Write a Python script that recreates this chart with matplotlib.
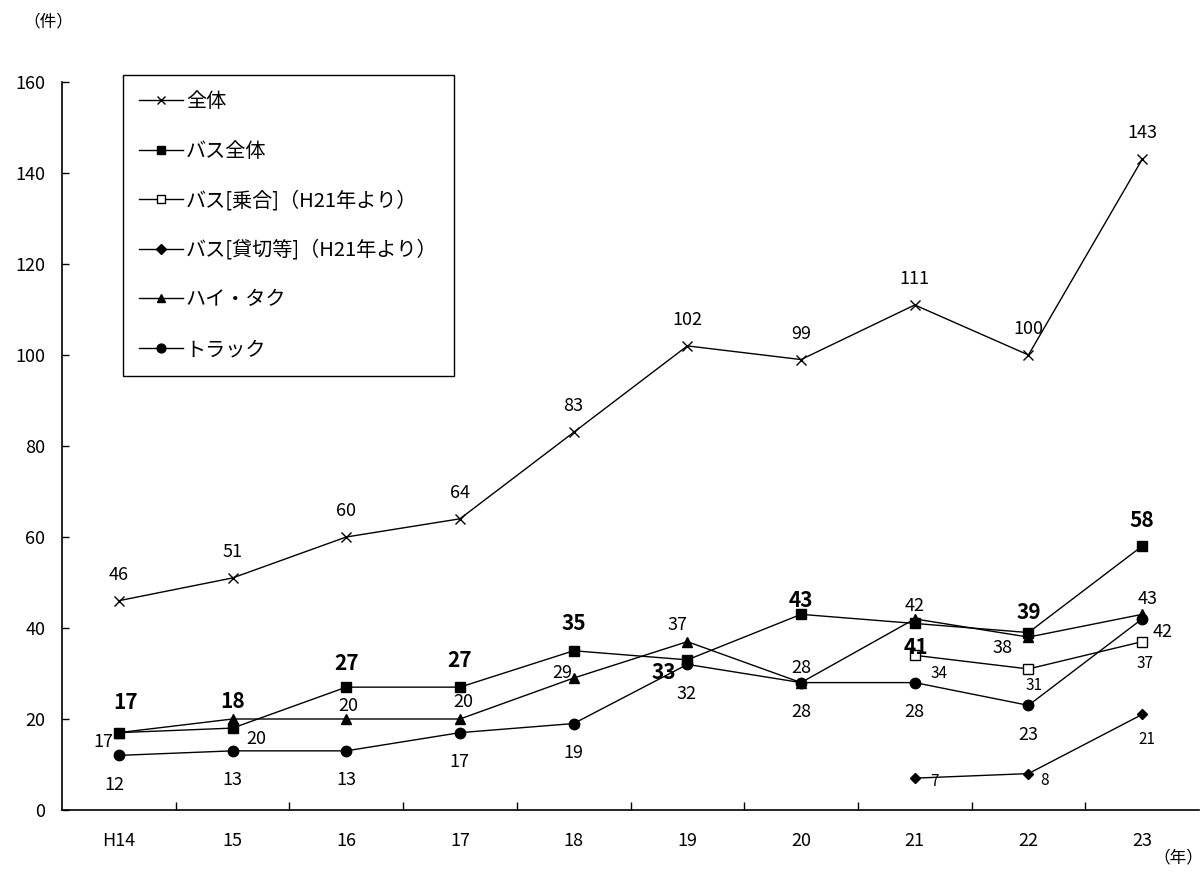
import numpy as np
import matplotlib
matplotlib.use('Agg')
import matplotlib.pyplot as plt

plt.rcParams['font.family'] = ['Noto Sans CJK JP', 'DejaVu Sans']

# データ
years = ['H14', '15', '16', '17', '18', '19', '20', '21', '22', '23']
total = [46, 51, 60, 64, 83, 102, 99, 111, 100, 143]
bus_total = [17, 18, 27, 27, 35, 33, 43, 41, 39, 58]
bus_route = [None, None, None, None, None, None, None, 34, 31, 37]
bus_charter = [None, None, None, None, None, None, None, 7, 8, 21]
hire_taxi = [17, 20, 20, 20, 29, 37, 28, 42, 38, 43]
truck = [12, 13, 13, 17, 19, 32, 28, 28, 23, 42]

names = ['全体', 'バス全体', 'バス[乗合]（H21年より）', 'バス[貸切等]（H21年より）', 'ハイ・タク', 'トラック']

# ラベル位置 (ピクセル単位のずれ)
off_total = [(0, 26)] * 10
off_bus = [(7, 30), (0, 27), (0, 24), (0, 27), (0, 27), (-24, -13), (0, 14), (1, -24), (0, 20), (0, 26)]
off_route = [None] * 7 + [(24, -18), (6, -17), (3, -22)]
off_charter = [None] * 7 + [(20, -3), (16, -7), (5, -25)]
off_taxi = [(-15, -9), (24, -20), (2, 13), (3, 17), (-11, 5), (-10, 17), (0, 15), (0, 13), (-26, -11), (5, 15)]
off_truck = [(-4, -30), (0, -29), (0, -29), (-1, -29), (0, -29), (-1, -30), (0, -29), (0, -29), (0, -30), (20, -13)]

fig = plt.figure(figsize=(12.04, 8.77), dpi=100)
ax = fig.add_axes([62 / 1204, 1 - 810 / 877, (1199 - 62) / 1204, (810 - 82) / 877])

x = np.arange(len(years))


def to_arr(vals):
    return np.array([np.nan if v is None else v for v in vals], dtype=float)


series = [
    (total, dict(marker='x', markersize=7, markerfacecolor='black', mew=1.0), off_total, dict(fontsize=13)),
    (bus_total, dict(marker='s', markersize=7.5, markerfacecolor='black'), off_bus, dict(fontsize=15, fontweight='bold')),
    (bus_route, dict(marker='s', markersize=7, markerfacecolor='white', mew=1.0), off_route, dict(fontsize=11)),
    (bus_charter, dict(marker='D', markersize=5.5, markerfacecolor='black'), off_charter, dict(fontsize=11)),
    (hire_taxi, dict(marker='^', markersize=7.5, markerfacecolor='black'), off_taxi, dict(fontsize=13)),
    (truck, dict(marker='o', markersize=7.5, markerfacecolor='black'), off_truck, dict(fontsize=13)),
]

for (vals, mk, offs, tk), name in zip(series, names):
    y = to_arr(vals)
    ax.plot(x, y, color='black', lw=1.0, markeredgecolor='black', label=name, **mk)
    for xi, v, o in zip(x, vals, offs):
        if v is None:
            continue
        ax.annotate(str(v), (xi, v), xytext=o, textcoords='offset pixels',
                    ha='center', va='center', color='black', **tk)

ax.set_xlim(-0.5, len(years) - 0.5)
ax.set_ylim(0, 160)
ax.set_yticks(np.arange(0, 161, 20))
ax.tick_params(axis='y', direction='in', length=5, width=1, labelsize=13, pad=12)
ax.set_xticks(x)
ax.set_xticklabels(years)
ax.tick_params(axis='x', which='major', length=0, labelsize=13, pad=16)
ax.set_xticks(np.arange(0.5, len(years) - 0.5, 1), minor=True)
ax.tick_params(axis='x', which='minor', direction='in', length=6, width=1)
ax.spines['top'].set_visible(False)
ax.spines['right'].set_visible(False)
ax.spines['left'].set_linewidth(1.2)
ax.spines['bottom'].set_linewidth(1.2)

leg = ax.legend(loc='upper left', bbox_to_anchor=(123 / 1204, 1 - 75 / 877),
                bbox_transform=fig.transFigure, borderaxespad=0, fontsize=14.5,
                frameon=True, fancybox=False, edgecolor='black', handlelength=2.2,
                handletextpad=0.12, labelspacing=1.42, borderpad=0.8, markerscale=0.85)
leg.get_frame().set_linewidth(1.0)
leg.get_frame().set_alpha(1)

fig.text(48 / 1204, 1 - 22 / 877, '（件）', ha='center', va='center', fontsize=12)
fig.text(1203 / 1204, 1 - 858 / 877, '（年）', ha='right', va='center', fontsize=12)

fig.savefig('out.png', dpi=100)
